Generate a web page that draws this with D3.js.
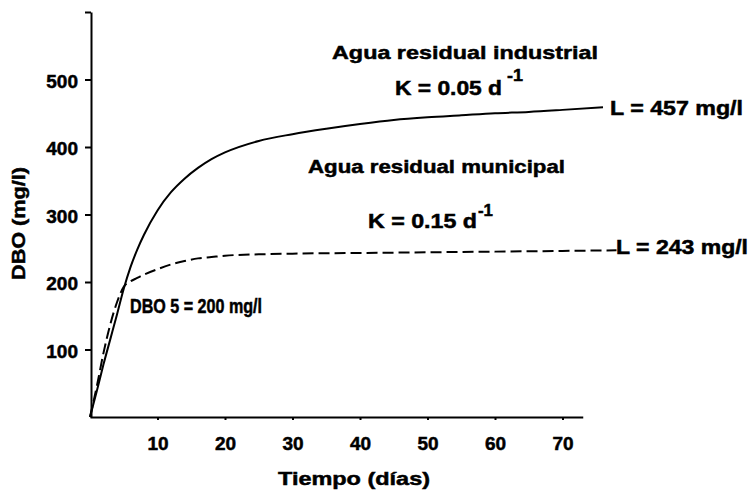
<!DOCTYPE html>
<html>
<head>
<meta charset="utf-8">
<script src="https://cdn.jsdelivr.net/npm/d3@7"></script>
<style>
  body { margin: 0; background: #fff; }
  svg { display: block; font-family: "Liberation Sans", Arial, sans-serif; font-weight: bold; }
  svg text { stroke: #000; stroke-width: 0.5px; }
  .axis path, .axis line { stroke: #000; stroke-width: 2; }
  .axis text { font-size: 19px; font-weight: bold; fill: #000; }
</style>
</head>
<body>
<div id="chart"></div>
<script>
// Datos
let industrialDays = [0, 1, 2, 3, 4, 5, 6, 7, 8, 10, 12, 14, 16, 18, 20, 25, 30, 35, 40, 45, 50, 55, 60, 65, 70, 76];
let industrial     = [0, 38, 78, 115, 152, 190, 222, 248, 270, 306, 333, 353, 369, 382, 392, 409, 419, 427, 434, 440, 444, 447, 450, 452, 455, 459];

let municipalDays = [0, 1, 2, 3, 4, 5, 6, 7, 8, 10, 12, 14, 16, 18, 20, 25, 30, 40, 50, 60, 70, 78];
let municipal     = [0, 45, 95, 137, 170, 193, 201, 206, 211, 219, 226, 231, 235, 237, 239, 241, 242, 243, 244, 245, 246, 247];

let xTicks = [10, 20, 30, 40, 50, 60, 70];
let yTicks = [100, 200, 300, 400, 500, 600];

let width = 752, height = 490;

let xScale = d3.scaleLinear()
  .domain([0, 73])
  .range([90, 582.75]);

let yScale = d3.scaleLinear()
  .domain([0, 600])
  .range([417, 12]);

let svg = d3.select("#chart").append("svg")
    .attr("width", width)
    .attr("height", height);

svg.append("rect")
    .attr("width", width)
    .attr("height", height)
    .attr("fill", "#fff");

// ejes
let xAxis = d3.axisBottom(xScale)
    .tickValues(xTicks)
    .tickSize(3)
    .tickPadding(17)
    .tickSizeOuter(0);

let yAxis = d3.axisLeft(yScale)
    .tickValues(yTicks)
    .tickSize(6)
    .tickPadding(7)
    .tickSizeOuter(0)
    .tickFormat(d => d === 600 ? "" : d);

svg.append("g")
    .attr("class", "x axis")
    .attr("transform", `translate(0, ${yScale(0)})`)
    .call(xAxis);

svg.append("g")
    .attr("class", "y axis")
    .attr("transform", `translate(${xScale(0) + 1}, 0)`)
    .call(yAxis);

svg.selectAll(".y.axis .tick text").attr("dy", "0.42em");

// curvas
let line = d3.line()
    .x(d => xScale(d[0]))
    .y(d => yScale(d[1]))
    .curve(d3.curveMonotoneX);

svg.append("path")
    .datum(d3.zip(industrialDays, industrial))
    .attr("fill", "none")
    .attr("stroke", "#000")
    .attr("stroke-width", 2)
    .attr("d", line);

svg.append("path")
    .datum(d3.zip(municipalDays, municipal))
    .attr("fill", "none")
    .attr("stroke", "#000")
    .attr("stroke-width", 2)
    .attr("stroke-dasharray", "11,5")
    .attr("d", line);

// textos
function label(txt, x, y, len, size) {
  return svg.append("text")
    .attr("x", x)
    .attr("y", y)
    .attr("font-size", size)
    .attr("textLength", len)
    .attr("lengthAdjust", "spacingAndGlyphs")
    .text(txt);
}

label("Agua residual industrial", 332, 59, 266, 19);
label("K = 0.05 d", 395, 95, 107, 20);
label("-1", 507, 81, 16, 17);
label("L = 457 mg/l", 610, 115, 133, 20);

label("Agua residual municipal", 308, 173, 257, 19);
label("K = 0.15 d", 368, 228, 109, 20);
label("-1", 478, 216, 15, 17);
label("L = 243 mg/l", 616, 254, 132, 20);

label("DBO 5 = 200 mg/l", 130, 313, 132, 20);

label("Tiempo (días)", 278, 485, 152, 19);

svg.append("text")
    .attr("transform", "translate(25, 280) rotate(-90)")
    .attr("font-size", 19)
    .attr("textLength", 113)
    .attr("lengthAdjust", "spacingAndGlyphs")
    .text("DBO (mg/l)");
</script>
</body>
</html>
